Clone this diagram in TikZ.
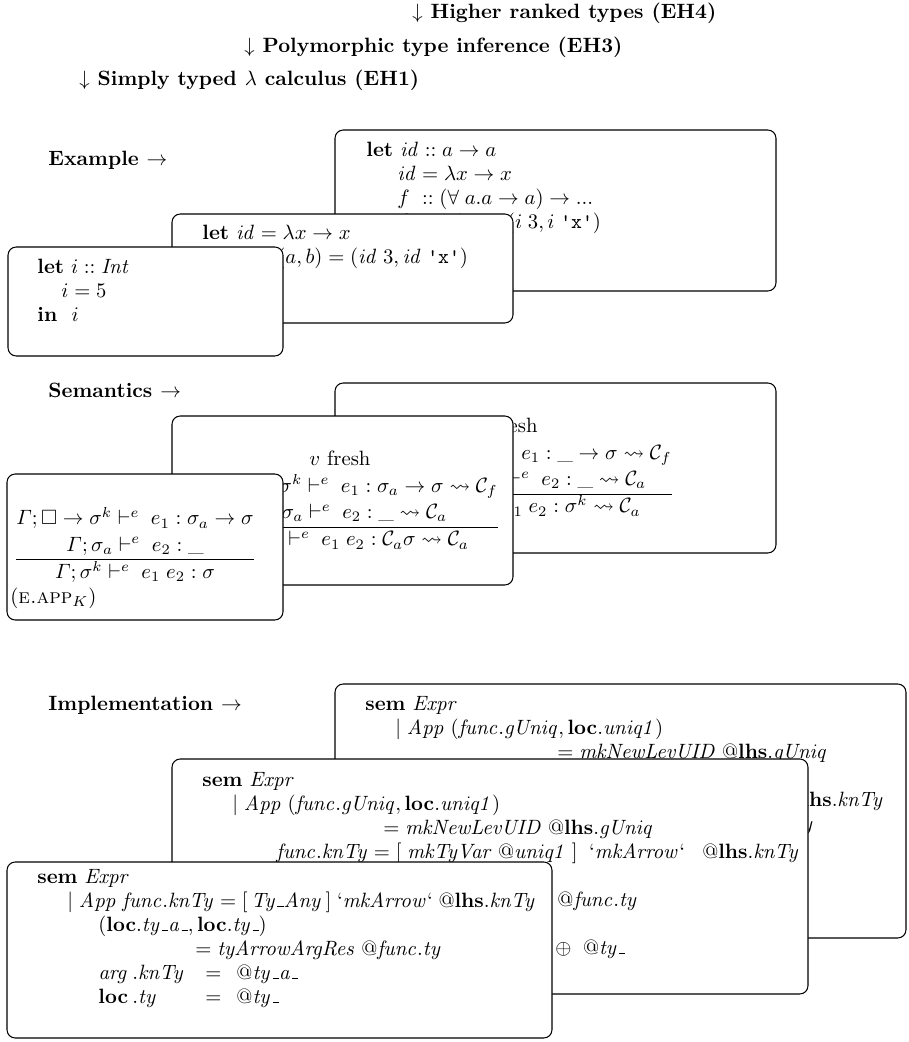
\documentclass[tikz,border=0pt]{standalone}
\usepackage{amsmath,amssymb}
\newlength\pxu
\setlength\pxu{0.4831pt}
\newcommand\hs[1]{\hspace*{#1\pxu}}
\newcommand\bq{\mbox{`}}
\newcommand\us{\kern.06em\vbox{\hrule width.3em}}
\renewcommand{\arraystretch}{1.1}
\begin{document}
\begin{tikzpicture}[x=\pxu,y=-\pxu,
  slab/.style={draw,rounded corners=4pt,fill=white,line width=0.5pt},
  code/.style={anchor=north west,inner sep=0pt,align=left,text width=#1\pxu,font=\fontsize{10}{11.6}\selectfont},
  code/.default=560,
  stage/.style={anchor=west,inner sep=0pt,font=\bfseries},
  judg/.style={inner sep=0pt,font=\fontsize{10}{11.6}\selectfont}]
\useasboundingbox (0,0) rectangle (908,1042);

% the three language variants
\node[stage] (ehFour) at (412,13) {$\downarrow$ Higher ranked types (EH4)};
\node[stage] (ehThree) at (244,47) {$\downarrow$ Polymorphic type inference (EH3)};
\node[stage] (ehOne) at (79,80) {$\downarrow$ Simply typed $\lambda$ calculus (EH1)};

% example
\node[stage] (exLabel) at (48,160) {Example $\rightarrow$};
\draw[slab] (335,130) rectangle (776,291);
\node[code] (exHigh) at (366,139) {\strut\textbf{let} $\mathit{id} :: a \rightarrow a$\\
  \hs{31}$\mathit{id} = \lambda x \rightarrow x$\\
  \hs{31}$\rlap{$f$}\phantom{\mathit{id}} :: (\forall\; a.a \rightarrow a) \rightarrow ...$\\
  \hs{31}$\rlap{$f$}\phantom{\mathit{id}}\;\; = \lambda i \rightarrow (i\;3, i\;\texttt{'x'})$};
\draw[slab] (172,214) rectangle (513,323);
\node[code] (exMid) at (202,222) {\strut\textbf{let} $\mathit{id} = \lambda x \rightarrow x$\\
  \hs{75}$(a, b) = (\mathit{id}\;3, \mathit{id}\;\texttt{'x'})$};
\draw[slab] (8,247) rectangle (283,356);
\node[code] (exLow) at (37,256) {\strut\textbf{let} $i :: \mathit{Int}$\\
  \hs{24}$i = 5$\\
  \textbf{in}\hspace{7pt}$i$};

% semantics
\node[stage] (semLabel) at (48,390) {Semantics $\rightarrow$};
\draw[slab] (335,383) rectangle (776,553);
\node[judg,anchor=north east] (semHigh) at (672,414) {$\begin{array}{@{}c@{}}
  v\ \text{fresh}\hs{44}\\
  \varGamma; \Box \rightarrow \sigma^k \vdash^{e}\; e_1 : \_ \rightarrow \sigma \leadsto \mathcal{C}_f\\
  \hs{44}\varGamma; \sigma_a \vdash^{e}\; e_2 : \_ \leadsto \mathcal{C}_a\\ \hline
  \varGamma; \sigma^k \vdash^{e}\; e_1\; e_2 : \sigma^k \leadsto \mathcal{C}_a
  \end{array}$};
\draw[slab] (172,416) rectangle (513,585);
\node[judg,anchor=north east] (semMid) at (498,447) {$\begin{array}{@{}c@{}}
  v\ \text{fresh}\hs{24}\\
  \varGamma; \Box \rightarrow \sigma^k \vdash^{e}\; e_1 : \sigma_a \rightarrow \sigma \leadsto \mathcal{C}_f\\
  \varGamma; \sigma_a \vdash^{e}\; e_2 : \_ \leadsto \mathcal{C}_a\\ \hline
  \varGamma; \sigma^k \vdash^{e}\; e_1\; e_2 : \mathcal{C}_a\sigma \leadsto \mathcal{C}_a
  \end{array}$};
\draw[slab] (7,474) rectangle (283,620);
\node[judg,anchor=north] (semLow) at (135,506) {$\begin{array}{@{}c@{}}
  \varGamma; \Box \rightarrow \sigma^k \vdash^{e}\; e_1 : \sigma_a \rightarrow \sigma\\
  \varGamma; \sigma_a \vdash^{e}\; e_2 : \_\\ \hline
  \varGamma; \sigma^k \vdash^{e}\; e_1\; e_2 : \sigma
  \end{array}$};
\node[judg,anchor=west] (semLowName) at (10,598) {$(\mbox{\textsc{e.app}}_K)$};

% implementation
\node[stage] (implLabel) at (48,705) {Implementation $\rightarrow$};
\draw[slab] (335,684) rectangle (906,938);
\node[code] (implHigh) at (365,693) {\strut\textbf{sem} $\mathit{Expr}$\\
  \hs{30}$\mid \mathit{App}\;(\mathit{func}.\mathit{gUniq}, \mathbf{loc}.\mathit{uniq1})$\\
  \hs{192}$= \mathit{mkNewLevUID}\;@\mathbf{lhs}.\mathit{gUniq}$\\
  \mbox{}\\
  \hs{421}$@\mathbf{lhs}.\mathit{knTy}$\\
  \hs{368}$@\mathit{func}.\mathit{ty}$};
\draw[slab] (172,759) rectangle (808,994);
\node[code=640] (implMid) at (202,769) {\strut\textbf{sem} $\mathit{Expr}$\\
  \hs{30}$\mid \mathit{App}\;(\mathit{func}.\mathit{gUniq}, \mathbf{loc}.\mathit{uniq1})$\\
  \hs{181}$= \mathit{mkNewLevUID}\;@\mathbf{lhs}.\mathit{gUniq}$\\
  \hs{74}$\mathit{func}.\mathit{knTy} = [\;\mathit{mkTyVar}\;@\mathit{uniq1}\;]\;\;\bq\mathit{mkArrow}\bq\;\;\;@\mathbf{lhs}.\mathit{knTy}$\\
  \mbox{}\\
  \hs{355}$@\mathit{func}.\mathit{ty}$\\
  \mbox{}\\
  \hs{353}$\oplus\;\;@\mathit{ty}\us$};
\draw[slab] (7,862) rectangle (552,1038);
\node[code] (implLow) at (37,866) {\strut\textbf{sem} $\mathit{Expr}$\\
  \hs{30}$\mid \mathit{App}\;\mathit{func}.\mathit{knTy} = [\,\mathit{Ty}\us\mathit{Any}\,]\;\bq\mathit{mkArrow}\bq\;@\mathbf{lhs}.\mathit{knTy}$\\
  \hs{61}$(\mathbf{loc}.\mathit{ty}\us\mathit{a}\us, \mathbf{loc}.\mathit{ty}\us)$\\
  \hs{158}$= \mathit{tyArrowArgRes}\;@\mathit{func}.\mathit{ty}$\\
  \hs{61}\makebox[34\pxu][l]{$\mathit{arg}$}\makebox[73\pxu][l]{$.\mathit{knTy}$}$=\;\,@\mathit{ty}\us\mathit{a}\us$\\
  \hs{61}\makebox[34\pxu][l]{$\mathbf{loc}$}\makebox[73\pxu][l]{$.\mathit{ty}$}$=\;\,@\mathit{ty}\us$};
\end{tikzpicture}
\end{document}
